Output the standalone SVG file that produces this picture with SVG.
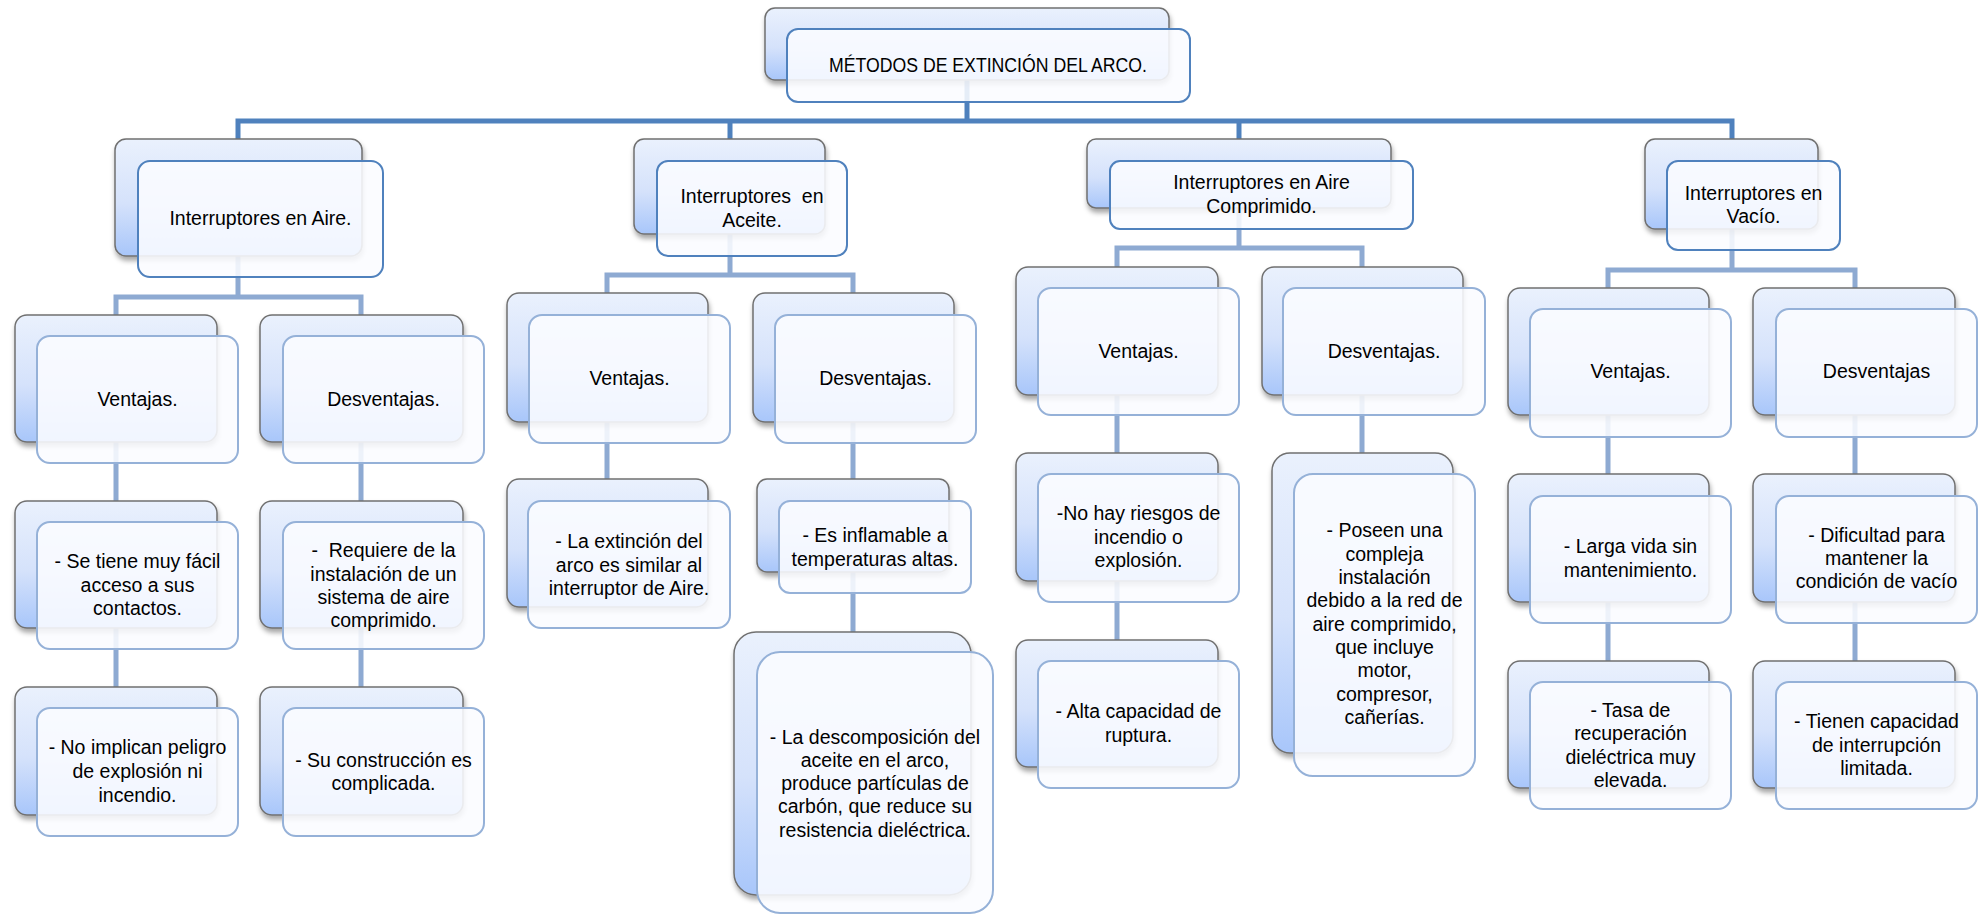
<svg xmlns="http://www.w3.org/2000/svg" width="1982" height="914" viewBox="0 0 1982 914">
<defs>
<linearGradient id="bg" x1="0" y1="0" x2="0" y2="1">
<stop offset="0" stop-color="#eaf1fd"/>
<stop offset="0.55" stop-color="#d5e2fb"/>
<stop offset="1" stop-color="#a8c6fa"/>
</linearGradient>
<filter id="sh" x="-10%" y="-10%" width="125%" height="130%">
<feDropShadow dx="1" dy="4" stdDeviation="2.5" flood-color="#000" flood-opacity="0.35"/>
</filter>
<style>
.back{fill:url(#bg);stroke:#707070;stroke-width:1.5;filter:url(#sh)}
.front{fill:#fbfcff;fill-opacity:0.88;stroke:#95b1d8;stroke-width:2}
.front1{fill:#fbfcff;fill-opacity:0.88;stroke:#4f81bd;stroke-width:2}
.t{font-family:"Liberation Sans",Arial,sans-serif;font-size:19.5px;fill:#000;text-anchor:middle}
.c0{fill:none;stroke:#4f81bd;stroke-width:5}
.c1{fill:none;stroke:#8eaad2;stroke-width:5}
</style>
</defs>
<rect width="1982" height="914" fill="#fff"/>
<g id="connectors">
<path class="c0" d="M967,80V121M238,139V121H1732V139M730,121V139M1239,121V139"/>
<path class="c1" d="M238,256V297M116,315V297H361V315"/>
<path class="c1" d="M730,234V275M607,293V275H853V293"/>
<path class="c1" d="M1239,208V248M1117,267V248H1362V267"/>
<path class="c1" d="M1732,229V270M1608,288V270H1855V288"/>
<path class="c1" d="M116,442V501M116,628V687M361,442V501M361,628V687"/>
<path class="c1" d="M607,422V479M853,422V479M853,572V632"/>
<path class="c1" d="M1117,395V453M1117,581V640M1362,395V453"/>
<path class="c1" d="M1608,415V474M1608,602V661M1855,415V474M1855,602V661"/>
</g>
<g id="root">
<rect class="back" x="765" y="8" width="404" height="72" rx="10"/>
<rect class="front1" x="787" y="29" width="403" height="73" rx="11"/>
<text class="t" x="988" y="72" textLength="318" lengthAdjust="spacingAndGlyphs">MÉTODOS DE EXTINCIÓN DEL ARCO.</text>
</g>
<g id="aire">
<rect class="back" x="115" y="139" width="247" height="117" rx="11"/>
<rect class="front1" x="138" y="161" width="245" height="116" rx="12"/>
<text class="t" x="260.5" y="225">Interruptores en Aire.</text>
</g>
<g id="aceite">
<rect class="back" x="634" y="139" width="191" height="95" rx="10"/>
<rect class="front1" x="657" y="161" width="190" height="95" rx="11"/>
<text class="t" x="752" xml:space="preserve"><tspan x="752" y="203">Interruptores  en</tspan><tspan x="752" y="227">Aceite.</tspan></text>
</g>
<g id="comprimido">
<rect class="back" x="1087" y="139" width="304" height="69" rx="9"/>
<rect class="front1" x="1110" y="161" width="303" height="68" rx="10"/>
<text class="t"><tspan x="1261.5" y="189">Interruptores en Aire</tspan><tspan x="1261.5" y="213">Comprimido.</tspan></text>
</g>
<g id="vacio">
<rect class="back" x="1645" y="139" width="173" height="90" rx="10"/>
<rect class="front1" x="1667" y="161" width="173" height="89" rx="11"/>
<text class="t"><tspan x="1753.5" y="200">Interruptores en</tspan><tspan x="1753.5" y="223">Vacío.</tspan></text>
</g>
<g id="aire-ventajas">
<rect class="back" x="15" y="315" width="202" height="127" rx="12"/>
<rect class="front" x="37" y="336" width="201" height="127" rx="13"/>
<text class="t" x="137.5" y="406">Ventajas.</text>
</g>
<g id="aire-desventajas">
<rect class="back" x="260" y="315" width="203" height="127" rx="12"/>
<rect class="front" x="283" y="336" width="201" height="127" rx="13"/>
<text class="t" x="383.5" y="406">Desventajas.</text>
</g>
<g id="aceite-ventajas">
<rect class="back" x="507" y="293" width="201" height="129" rx="12"/>
<rect class="front" x="529" y="315" width="201" height="128" rx="13"/>
<text class="t" x="629.5" y="385">Ventajas.</text>
</g>
<g id="aceite-desventajas">
<rect class="back" x="753" y="293" width="201" height="129" rx="12"/>
<rect class="front" x="775" y="315" width="201" height="128" rx="13"/>
<text class="t" x="875.5" y="385">Desventajas.</text>
</g>
<g id="comprimido-ventajas">
<rect class="back" x="1016" y="267" width="202" height="128" rx="12"/>
<rect class="front" x="1038" y="288" width="201" height="127" rx="13"/>
<text class="t" x="1138.5" y="358">Ventajas.</text>
</g>
<g id="comprimido-desventajas">
<rect class="back" x="1262" y="267" width="201" height="128" rx="12"/>
<rect class="front" x="1283" y="288" width="202" height="127" rx="13"/>
<text class="t" x="1384" y="358">Desventajas.</text>
</g>
<g id="vacio-ventajas">
<rect class="back" x="1508" y="288" width="201" height="127" rx="12"/>
<rect class="front" x="1530" y="309" width="201" height="128" rx="13"/>
<text class="t" x="1630.5" y="378">Ventajas.</text>
</g>
<g id="vacio-desventajas">
<rect class="back" x="1753" y="288" width="202" height="127" rx="12"/>
<rect class="front" x="1776" y="309" width="201" height="128" rx="13"/>
<text class="t" x="1876.5" y="378">Desventajas</text>
</g>
<g id="aire-v1">
<rect class="back" x="15" y="501" width="202" height="127" rx="12"/>
<rect class="front" x="37" y="522" width="201" height="127" rx="13"/>
<text class="t"><tspan x="137.5" y="568">- Se tiene muy fácil</tspan><tspan x="137.5" y="592">acceso a sus</tspan><tspan x="137.5" y="615">contactos.</tspan></text>
</g>
<g id="aire-v2">
<rect class="back" x="15" y="687" width="202" height="128" rx="12"/>
<rect class="front" x="37" y="708" width="201" height="128" rx="13"/>
<text class="t"><tspan x="137.5" y="754">- No implican peligro</tspan><tspan x="137.5" y="778">de explosión ni</tspan><tspan x="137.5" y="802">incendio.</tspan></text>
</g>
<g id="aire-d1">
<rect class="back" x="260" y="501" width="203" height="127" rx="12"/>
<rect class="front" x="283" y="522" width="201" height="127" rx="13"/>
<text class="t" xml:space="preserve"><tspan x="383.5" y="557">-  Requiere de la</tspan><tspan x="383.5" y="581">instalación de un</tspan><tspan x="383.5" y="604">sistema de aire</tspan><tspan x="383.5" y="627">comprimido.</tspan></text>
</g>
<g id="aire-d2">
<rect class="back" x="260" y="687" width="203" height="128" rx="12"/>
<rect class="front" x="283" y="708" width="201" height="128" rx="13"/>
<text class="t"><tspan x="383.5" y="767">- Su construcción es</tspan><tspan x="383.5" y="790">complicada.</tspan></text>
</g>
<g id="aceite-v1">
<rect class="back" x="507" y="479" width="201" height="128" rx="12"/>
<rect class="front" x="528" y="501" width="202" height="127" rx="13"/>
<text class="t"><tspan x="629" y="548">- La extinción del</tspan><tspan x="629" y="572">arco es similar al</tspan><tspan x="629" y="595">interruptor de Aire.</tspan></text>
</g>
<g id="aceite-d1">
<rect class="back" x="757" y="479" width="192" height="93" rx="10"/>
<rect class="front" x="779" y="501" width="192" height="92" rx="11"/>
<text class="t"><tspan x="875" y="542">- Es inflamable a</tspan><tspan x="875" y="566">temperaturas altas.</tspan></text>
</g>
<g id="aceite-d2">
<rect class="back" x="734" y="632" width="237" height="263" rx="22"/>
<rect class="front" x="757" y="652" width="236" height="261" rx="23"/>
<text class="t"><tspan x="875" y="744">- La descomposición del</tspan><tspan x="875" y="767">aceite en el arco,</tspan><tspan x="875" y="790">produce partículas de</tspan><tspan x="875" y="813">carbón, que reduce su</tspan><tspan x="875" y="837">resistencia dieléctrica.</tspan></text>
</g>
<g id="comprimido-v1">
<rect class="back" x="1016" y="453" width="202" height="128" rx="12"/>
<rect class="front" x="1038" y="474" width="201" height="128" rx="13"/>
<text class="t"><tspan x="1138.5" y="520">-No hay riesgos de</tspan><tspan x="1138.5" y="544">incendio o</tspan><tspan x="1138.5" y="567">explosión.</tspan></text>
</g>
<g id="comprimido-v2">
<rect class="back" x="1016" y="640" width="202" height="127" rx="12"/>
<rect class="front" x="1038" y="661" width="201" height="127" rx="13"/>
<text class="t"><tspan x="1138.5" y="718">- Alta capacidad de</tspan><tspan x="1138.5" y="742">ruptura.</tspan></text>
</g>
<g id="comprimido-d1">
<rect class="back" x="1272" y="453" width="181" height="300" rx="18"/>
<rect class="front" x="1294" y="474" width="181" height="302" rx="19"/>
<text class="t"><tspan x="1384.5" y="537">- Poseen una</tspan><tspan x="1384.5" y="561">compleja</tspan><tspan x="1384.5" y="584">instalación</tspan><tspan x="1384.5" y="607">debido a la red de</tspan><tspan x="1384.5" y="631">aire comprimido,</tspan><tspan x="1384.5" y="654">que incluye</tspan><tspan x="1384.5" y="677">motor,</tspan><tspan x="1384.5" y="701">compresor,</tspan><tspan x="1384.5" y="724">cañerías.</tspan></text>
</g>
<g id="vacio-v1">
<rect class="back" x="1508" y="474" width="201" height="128" rx="12"/>
<rect class="front" x="1530" y="496" width="201" height="127" rx="13"/>
<text class="t"><tspan x="1630.5" y="553">- Larga vida sin</tspan><tspan x="1630.5" y="577">mantenimiento.</tspan></text>
</g>
<g id="vacio-v2">
<rect class="back" x="1508" y="661" width="201" height="127" rx="12"/>
<rect class="front" x="1530" y="682" width="201" height="127" rx="13"/>
<text class="t"><tspan x="1630.5" y="717">- Tasa de</tspan><tspan x="1630.5" y="740">recuperación</tspan><tspan x="1630.5" y="764">dieléctrica muy</tspan><tspan x="1630.5" y="787">elevada.</tspan></text>
</g>
<g id="vacio-d1">
<rect class="back" x="1753" y="474" width="202" height="128" rx="12"/>
<rect class="front" x="1776" y="496" width="201" height="127" rx="13"/>
<text class="t"><tspan x="1876.5" y="542">- Dificultad para</tspan><tspan x="1876.5" y="565">mantener la</tspan><tspan x="1876.5" y="588">condición de vacío</tspan></text>
</g>
<g id="vacio-d2">
<rect class="back" x="1753" y="661" width="202" height="127" rx="12"/>
<rect class="front" x="1776" y="682" width="201" height="127" rx="13"/>
<text class="t"><tspan x="1876.5" y="728">- Tienen capacidad</tspan><tspan x="1876.5" y="752">de interrupción</tspan><tspan x="1876.5" y="775">limitada.</tspan></text>
</g>
</svg>
